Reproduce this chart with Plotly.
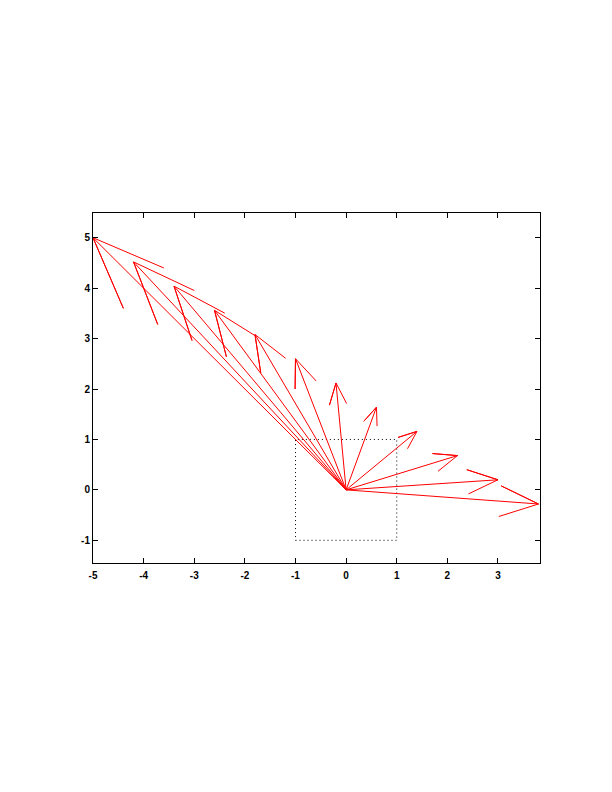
import plotly.graph_objects as go

# Arrow tip coordinates (compass plot vectors from origin)
tip_x = [-5.0, -4.2, -3.4, -2.6, -1.8, -1.0, -0.2, 0.6, 1.4, 2.2, 3.0, 3.8]
tip_y = [5.0, 4.52, 4.04, 3.56, 3.08, 2.60, 2.12, 1.64, 1.16, 0.68, 0.20, -0.28]

# Dotted unit square corners
box_x = [-1, 1, 1, -1, -1]
box_y = [-1, -1, 1, 1, -1]

x_ticks = [-5, -4, -3, -2, -1, 0, 1, 2, 3]
x_labels = ["-5", "-4", "-3", "-2", "-1", "0", "1", "2", "3"]
y_ticks = [-1, 0, 1, 2, 3, 4, 5]
y_labels = ["-1", "0", "1", "2", "3", "4", "5"]

fig = go.Figure()

# dotted box
fig.add_trace(go.Scatter(x=box_x, y=box_y, mode="lines",
                         line=dict(color="black", width=1, dash="1px,3px"),
                         hoverinfo="skip", showlegend=False))

# compass arrows: 0 -> z -> 0.8z+0.08iz -> z -> 0.8z-0.08iz
xs, ys = [], []
for x, y in zip(tip_x, tip_y):
    z = complex(x, y)
    b1 = z * complex(0.8, 0.08)
    b2 = z * complex(0.8, -0.08)
    for p in (0, z, b1, z, b2):
        p = complex(p)
        xs.append(p.real)
        ys.append(p.imag)
    xs.append(None)
    ys.append(None)

fig.add_trace(go.Scatter(x=xs, y=ys, mode="lines",
                         line=dict(color="#ff0000", width=1),
                         hoverinfo="skip", showlegend=False))

axis_common = dict(showgrid=False, zeroline=False, showline=True,
                   linecolor="black", linewidth=1, mirror="ticks",
                   ticks="inside", ticklen=5, tickcolor="black",
                   tickfont=dict(family="Liberation Sans, Arial", size=10,
                                 color="black", weight="bold"))

fig.update_layout(
    width=612, height=792,
    margin=dict(l=85, r=80, t=205, b=237),
    paper_bgcolor="white", plot_bgcolor="white",
    xaxis=dict(range=[-5, 3.83], tickvals=x_ticks, ticktext=x_labels,
               ticklabelstandoff=3, **axis_common),
    yaxis=dict(range=[-1.45, 5.49], tickvals=y_ticks, ticktext=y_labels,
               **axis_common),
)

fig.write_html("out.html")
